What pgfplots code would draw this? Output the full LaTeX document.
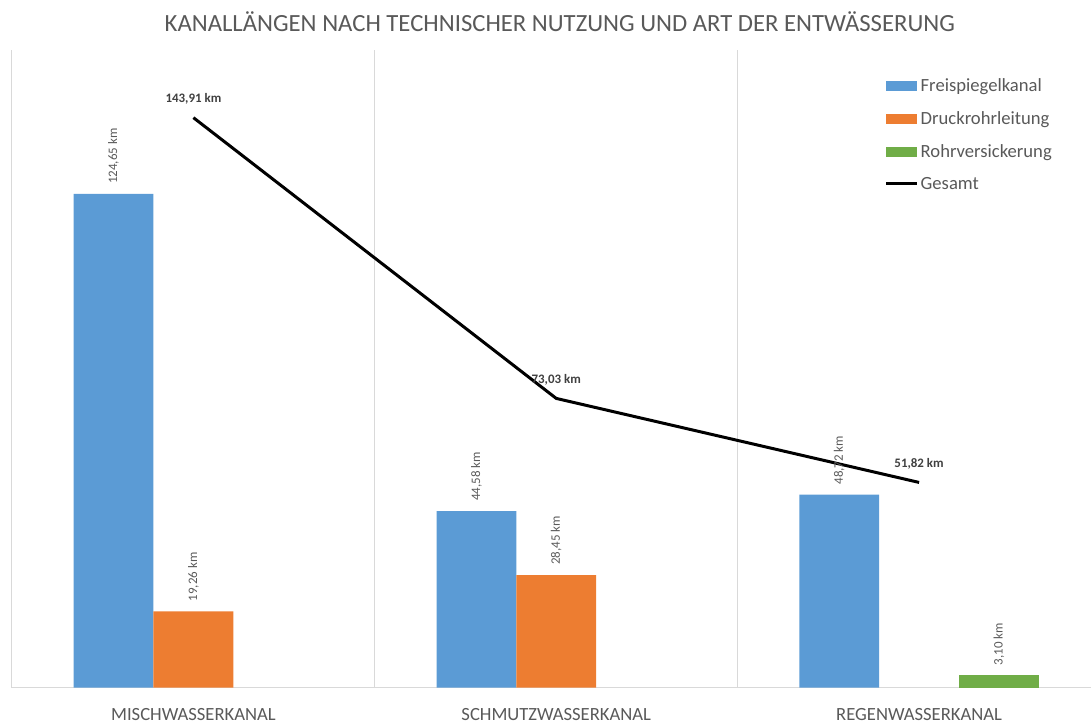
\documentclass[border=0pt]{standalone}
\usepackage{fontspec}
\setmainfont{Carlito}
\usepackage{pgfplots}
\pgfplotsset{compat=1.18}
\definecolor{cblue}{HTML}{5B9BD5}
\definecolor{corange}{HTML}{ED7D31}
\definecolor{cgreen}{HTML}{70AD47}
\definecolor{ctext}{HTML}{595959}
\definecolor{cdark}{HTML}{404040}
\definecolor{cgrid}{HTML}{D9D9D9}
\begin{document}
\begin{tikzpicture}
\path (0,0) rectangle (1091bp,723bp);
\begin{axis}[
  at={(12bp,35bp)}, anchor=south west,
  scale only axis, width=1079bp, height=638bp,
  xmin=-0.5, xmax=2.4725, ymin=0, ymax=161,
  axis y line=none, axis x line*=bottom,
  x axis line style={draw=cgrid, line width=1bp},
  xtick={0,1,2},
  xticklabels={MISCHWASSERKANAL, SCHMUTZWASSERKANAL, REGENWASSERKANAL},
  major tick length=0pt, minor tick length=0pt,
  minor xtick={-0.5,0.5,1.5}, xminorgrids,
  minor grid style={draw=cgrid, line width=1bp},
  x tick label style={font=\fontsize{18.7}{22}\selectfont, text=ctext, anchor=center, yshift=-27bp},
  clip=false,
  legend style={at={(0.809,0.958)}, anchor=north west, draw=none, fill=none,
    font=\fontsize{18.7}{22}\selectfont, text=ctext, row sep=14.3bp, inner sep=0pt},
  legend cell align=left,
  bar label/.style={nodes near coords, point meta=explicit symbolic,
    nodes near coords style={xshift=#1, yshift=10bp, rotate=90, anchor=west, inner sep=0pt,
      font=\fontsize{13}{15}\selectfont, text=ctext}},
]
\addplot[ybar, bar width=0.22, bar shift=-0.22, fill=cblue, draw=none, bar label=-79.9bp,
  legend image code/.code={\fill[cblue] (0bp,-5bp) rectangle (31bp,5bp);}]
  coordinates {(0,124.65) [124,65 km] (1,44.58) [44,58 km] (2,48.72) [48,72 km]};
\addlegendentry{Freispiegelkanal}
\addplot[ybar, bar width=0.22, bar shift=0, fill=corange, draw=none, bar label=0bp,
  legend image code/.code={\fill[corange] (0bp,-5bp) rectangle (31bp,5bp);}]
  coordinates {(0,19.26) [19,26 km] (1,28.45) [28,45 km]};
\addlegendentry{Druckrohrleitung}
\addplot[ybar, bar width=0.22, bar shift=0.22, fill=cgreen, draw=none, bar label=79.9bp,
  legend image code/.code={\fill[cgreen] (0bp,-5bp) rectangle (31bp,5bp);}]
  coordinates {(2,3.10) [3,10 km]};
\addlegendentry{Rohrversickerung}
\addplot[black, line width=3bp, mark=none, nodes near coords, point meta=explicit symbolic,
  nodes near coords style={anchor=south, inner sep=0pt, yshift=12bp,
    font=\bfseries\fontsize{13}{15}\selectfont, text=cdark},
  legend image code/.code={\draw[black, line width=3bp] (0bp,0bp) -- (31bp,0bp);}]
  coordinates {(0,143.91) [143,91 km] (1,73.03) [73,03 km] (2,51.82) [51,82 km]};
\addlegendentry{Gesamt}
\end{axis}
\node[font=\fontsize{24.8}{29}\selectfont, text=ctext] at (560bp,701bp)
  {KANALLÄNGEN NACH TECHNISCHER NUTZUNG UND ART DER ENTWÄSSERUNG};
\end{tikzpicture}
\end{document}
